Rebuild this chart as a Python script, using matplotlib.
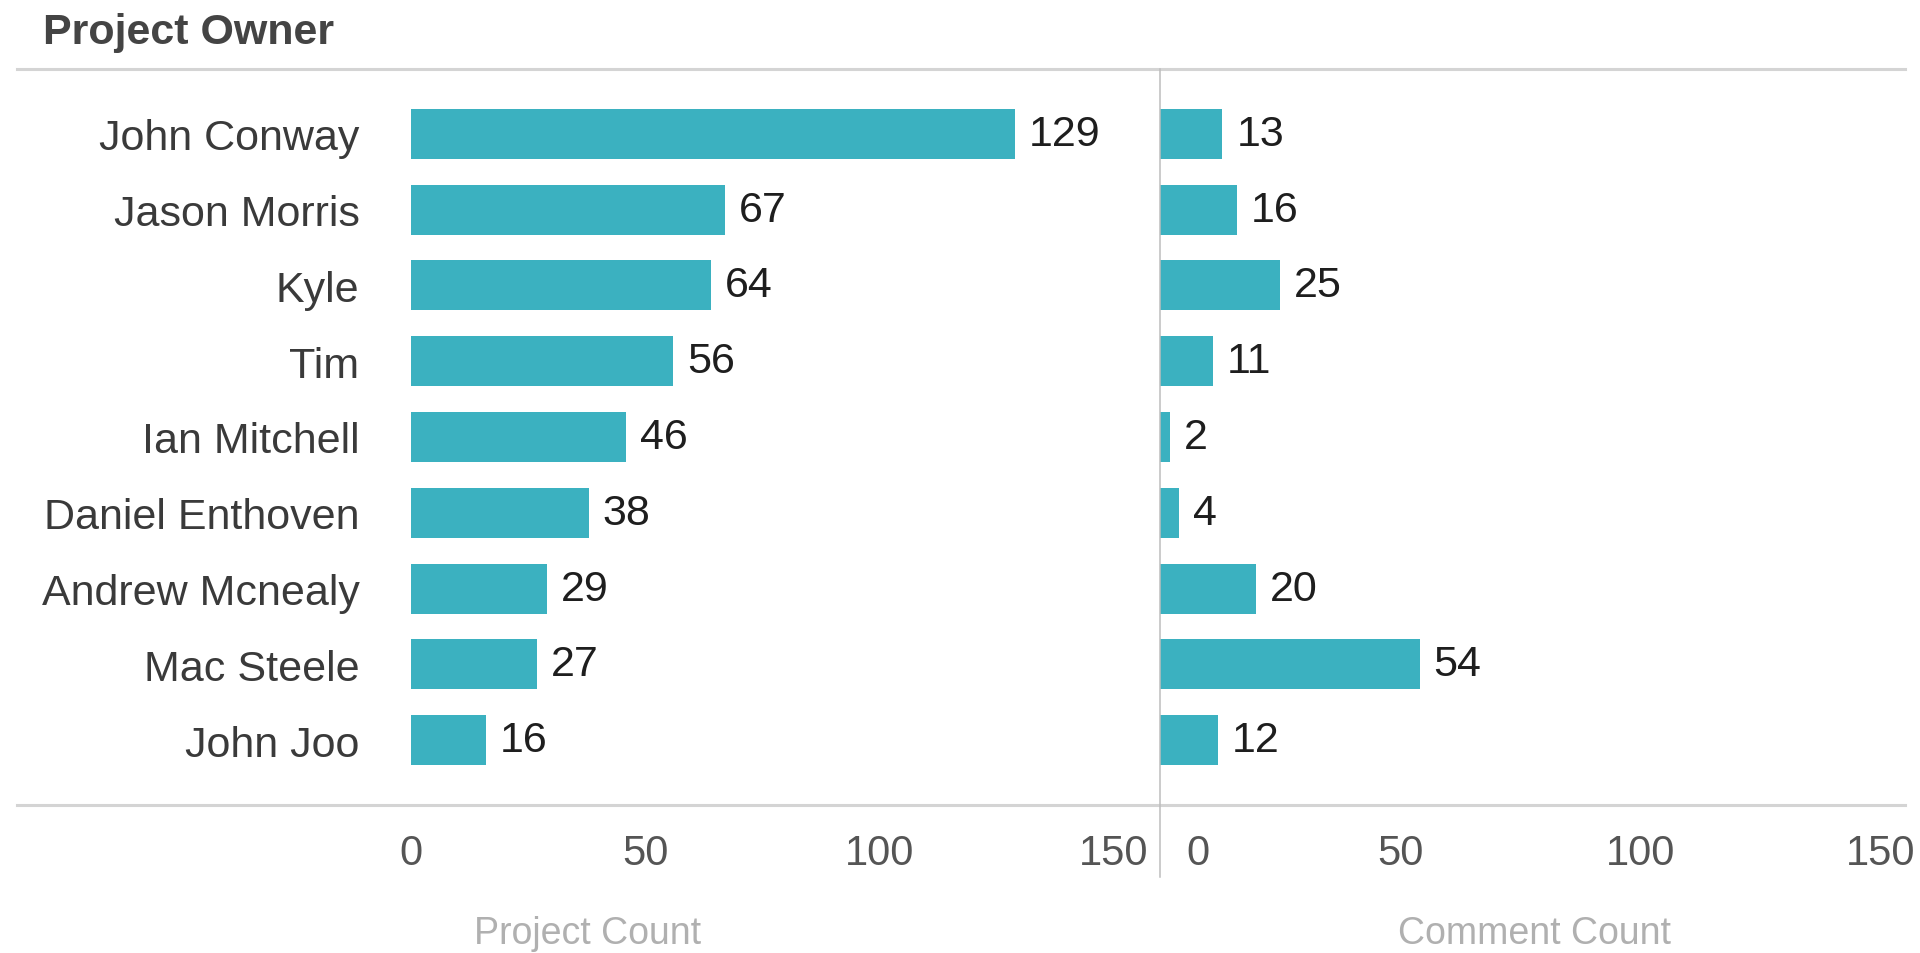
import matplotlib
matplotlib.use("Agg")
import matplotlib.pyplot as plt
import matplotlib.transforms as mtransforms
from matplotlib.lines import Line2D
import numpy as np

plt.rcParams['font.family'] = ['Liberation Sans', 'DejaVu Sans']

# Data
owners = ["John Conway", "Jason Morris", "Kyle", "Tim", "Ian Mitchell",
          "Daniel Enthoven", "Andrew Mcnealy", "Mac Steele", "John Joo"]
project_count = [129, 67, 64, 56, 46, 38, 29, 27, 16]
comment_count = [13, 16, 25, 11, 2, 4, 20, 54, 12]
x_ticks = [0, 50, 100, 150]

bar_color = "#3bb1c0"
line_color = "#d4d4d4"

W, H = 1920, 954
fig = plt.figure(figsize=(W / 100, H / 100), dpi=100)

top_px, bot_px = 70, 806
mid_px, left_px, right_px = 1160, 411, 1905


def px_box(x0, x1):
    return [x0 / W, (H - bot_px) / H, (x1 - x0) / W, (bot_px - top_px) / H]


ax1 = fig.add_axes(px_box(left_px, mid_px))
ax2 = fig.add_axes(px_box(mid_px, right_px))

y = np.arange(len(owners))
for ax, vals, xmax in [(ax1, project_count, 160), (ax2, comment_count, 155)]:
    ax.barh(y, vals, height=0.66, color=bar_color)
    ax.set_xlim(0, xmax)
    ax.set_ylim(len(owners) - 1 + 0.857, -0.857)
    for s in ax.spines.values():
        s.set_visible(False)
    ax.set_xticks(x_ticks)
    ax.set_xticklabels([str(t) for t in x_ticks])
    ax.tick_params(axis='x', length=0, pad=20, labelsize=30, labelcolor="#555555")
    for v, yy in zip(vals, y):
        ax.annotate(str(v), (v, yy), xytext=(10, 0), textcoords='offset points',
                    va='center', ha='left', fontsize=31, color="#1e1e1e")

ax1.set_yticks(y)
ax1.set_yticklabels(owners)
ax1.tick_params(axis='y', length=0, pad=37, labelsize=31, labelcolor="#3a3a3a")
ax2.set_yticks([])

# keep the first tick label of the right pane clear of the divider
lab0 = ax2.get_xticklabels()[0]
lab0.set_ha('left')
lab0.set_transform(lab0.get_transform() +
                   mtransforms.ScaledTranslation(26 / 100, 0, fig.dpi_scale_trans))

# frame lines
for yp in (top_px, bot_px):
    fig.add_artist(Line2D([17 / W, 1905 / W], [1 - yp / H, 1 - yp / H],
                          color=line_color, lw=2.2))
fig.add_artist(Line2D([mid_px / W, mid_px / W], [1 - top_px / H, 1 - 878 / H],
                      color="#bdbdbd", lw=1.1))

# title and axis titles
fig.text(43 / W, 1 - 33 / H, "Project Owner", fontsize=31, fontweight='bold',
         color="#444444", ha='left', va='center')
fig.text(588 / W, 1 - 934 / H, "Project Count", fontsize=27, color="#b0b0b0",
         ha='center', va='center')
fig.text(1535 / W, 1 - 934 / H, "Comment Count", fontsize=27, color="#b0b0b0",
         ha='center', va='center')

fig.savefig("out.png", dpi=100, facecolor="white")
